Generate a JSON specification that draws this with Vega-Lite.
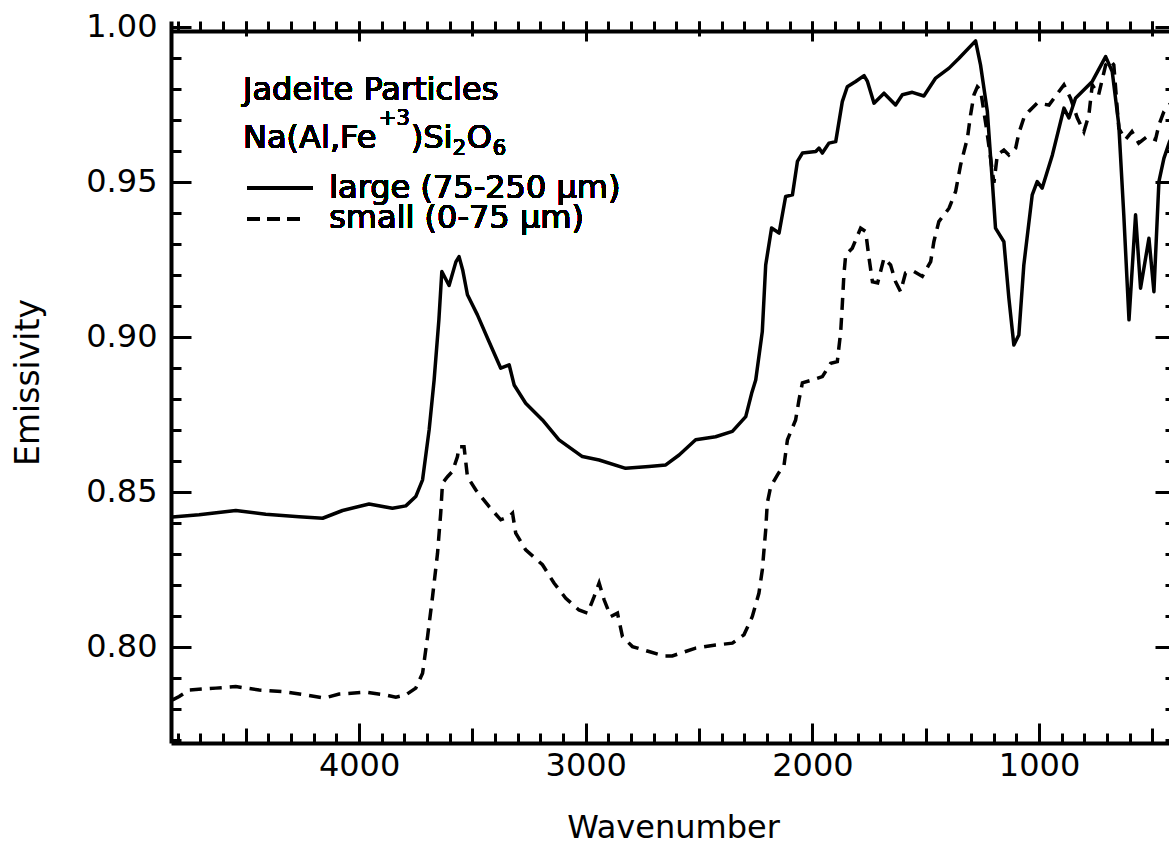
{
  "$schema": "https://vega.github.io/schema/vega-lite/v6.json",
  "width": 997,
  "height": 722,
  "autosize": {"type": "none"},
  "padding": {"left": 171, "top": 21, "right": 1, "bottom": 103},
  "background": "white",
  "config": {"view": {"stroke": null}, "axis": {"grid": false}},
  "datasets": {
    "spectra": [
      {"series":"large","wavenumber":4824,"emissivity":0.8418},{"series":"large","wavenumber":4706,"emissivity":0.8425},{"series":"large","wavenumber":4544,"emissivity":0.8439},{"series":"large","wavenumber":4412,"emissivity":0.8427},{"series":"large","wavenumber":4265,"emissivity":0.8419},{"series":"large","wavenumber":4161,"emissivity":0.8414},{"series":"large","wavenumber":4073,"emissivity":0.8439},{"series":"large","wavenumber":3956,"emissivity":0.8460},{"series":"large","wavenumber":3853,"emissivity":0.8446},{"series":"large","wavenumber":3794,"emissivity":0.8454},{"series":"large","wavenumber":3750,"emissivity":0.8484},{"series":"large","wavenumber":3720,"emissivity":0.8538},{"series":"large","wavenumber":3691,"emissivity":0.8699},{"series":"large","wavenumber":3669,"emissivity":0.8860},{"series":"large","wavenumber":3648,"emissivity":0.9054},{"series":"large","wavenumber":3635,"emissivity":0.9210},{"series":"large","wavenumber":3603,"emissivity":0.9165},{"series":"large","wavenumber":3573,"emissivity":0.9241},{"series":"large","wavenumber":3559,"emissivity":0.9258},{"series":"large","wavenumber":3543,"emissivity":0.9215},{"series":"large","wavenumber":3522,"emissivity":0.9135},{"series":"large","wavenumber":3478,"emissivity":0.9070},{"series":"large","wavenumber":3427,"emissivity":0.8984},{"series":"large","wavenumber":3375,"emissivity":0.8898},{"series":"large","wavenumber":3338,"emissivity":0.8909},{"series":"large","wavenumber":3316,"emissivity":0.8844},{"series":"large","wavenumber":3265,"emissivity":0.8785},{"series":"large","wavenumber":3191,"emissivity":0.8731},{"series":"large","wavenumber":3118,"emissivity":0.8667},{"series":"large","wavenumber":3015,"emissivity":0.8613},{"series":"large","wavenumber":2941,"emissivity":0.8602},{"series":"large","wavenumber":2824,"emissivity":0.8575},{"series":"large","wavenumber":2721,"emissivity":0.8581},{"series":"large","wavenumber":2647,"emissivity":0.8586},{"series":"large","wavenumber":2588,"emissivity":0.8618},{"series":"large","wavenumber":2515,"emissivity":0.8667},{"series":"large","wavenumber":2427,"emissivity":0.8677},{"series":"large","wavenumber":2353,"emissivity":0.8694},{"series":"large","wavenumber":2294,"emissivity":0.8742},{"series":"large","wavenumber":2268,"emissivity":0.8817},{"series":"large","wavenumber":2250,"emissivity":0.8860},{"series":"large","wavenumber":2221,"emissivity":0.9016},{"series":"large","wavenumber":2206,"emissivity":0.9231},{"series":"large","wavenumber":2180,"emissivity":0.9350},{"series":"large","wavenumber":2147,"emissivity":0.9334},{"series":"large","wavenumber":2118,"emissivity":0.9452},{"series":"large","wavenumber":2088,"emissivity":0.9457},{"series":"large","wavenumber":2066,"emissivity":0.9565},{"series":"large","wavenumber":2044,"emissivity":0.9592},{"series":"large","wavenumber":1985,"emissivity":0.9597},{"series":"large","wavenumber":1971,"emissivity":0.9608},{"series":"large","wavenumber":1956,"emissivity":0.9592},{"series":"large","wavenumber":1927,"emissivity":0.9624},{"series":"large","wavenumber":1897,"emissivity":0.9629},{"series":"large","wavenumber":1868,"emissivity":0.9758},{"series":"large","wavenumber":1846,"emissivity":0.9806},{"series":"large","wavenumber":1809,"emissivity":0.9823},{"series":"large","wavenumber":1772,"emissivity":0.9842},{"series":"large","wavenumber":1757,"emissivity":0.9823},{"series":"large","wavenumber":1728,"emissivity":0.9753},{"series":"large","wavenumber":1684,"emissivity":0.9785},{"series":"large","wavenumber":1633,"emissivity":0.9747},{"series":"large","wavenumber":1603,"emissivity":0.9780},{"series":"large","wavenumber":1559,"emissivity":0.9788},{"series":"large","wavenumber":1508,"emissivity":0.9776},{"series":"large","wavenumber":1456,"emissivity":0.9834},{"series":"large","wavenumber":1397,"emissivity":0.9866},{"series":"large","wavenumber":1353,"emissivity":0.9898},{"series":"large","wavenumber":1280,"emissivity":0.9954},{"series":"large","wavenumber":1258,"emissivity":0.9876},{"series":"large","wavenumber":1228,"emissivity":0.9726},{"series":"large","wavenumber":1206,"emissivity":0.9500},{"series":"large","wavenumber":1192,"emissivity":0.9350},{"series":"large","wavenumber":1155,"emissivity":0.9306},{"series":"large","wavenumber":1133,"emissivity":0.9124},{"series":"large","wavenumber":1111,"emissivity":0.8973},{"series":"large","wavenumber":1089,"emissivity":0.9005},{"series":"large","wavenumber":1067,"emissivity":0.9231},{"series":"large","wavenumber":1030,"emissivity":0.9457},{"series":"large","wavenumber":1008,"emissivity":0.9500},{"series":"large","wavenumber":986,"emissivity":0.9479},{"series":"large","wavenumber":941,"emissivity":0.9586},{"series":"large","wavenumber":890,"emissivity":0.9737},{"series":"large","wavenumber":868,"emissivity":0.9705},{"series":"large","wavenumber":839,"emissivity":0.9769},{"series":"large","wavenumber":765,"emissivity":0.9823},{"series":"large","wavenumber":706,"emissivity":0.9903},{"series":"large","wavenumber":677,"emissivity":0.9855},{"series":"large","wavenumber":648,"emissivity":0.9683},{"series":"large","wavenumber":626,"emissivity":0.9393},{"series":"large","wavenumber":603,"emissivity":0.9054},{"series":"large","wavenumber":574,"emissivity":0.9393},{"series":"large","wavenumber":552,"emissivity":0.9156},{"series":"large","wavenumber":515,"emissivity":0.9317},{"series":"large","wavenumber":493,"emissivity":0.9145},{"series":"large","wavenumber":471,"emissivity":0.9500},{"series":"large","wavenumber":449,"emissivity":0.9575},{"series":"large","wavenumber":424,"emissivity":0.9629},{"series":"large","wavenumber":400,"emissivity":0.9660},
      {"series":"small","wavenumber":4823,"emissivity":0.7828},{"series":"small","wavenumber":4794,"emissivity":0.7839},{"series":"small","wavenumber":4750,"emissivity":0.7860},{"series":"small","wavenumber":4632,"emissivity":0.7866},{"series":"small","wavenumber":4544,"emissivity":0.7871},{"series":"small","wavenumber":4441,"emissivity":0.7860},{"series":"small","wavenumber":4338,"emissivity":0.7855},{"series":"small","wavenumber":4235,"emissivity":0.7844},{"series":"small","wavenumber":4154,"emissivity":0.7834},{"series":"small","wavenumber":4088,"emissivity":0.7847},{"series":"small","wavenumber":3970,"emissivity":0.7853},{"series":"small","wavenumber":3882,"emissivity":0.7844},{"series":"small","wavenumber":3838,"emissivity":0.7837},{"series":"small","wavenumber":3794,"emissivity":0.7844},{"series":"small","wavenumber":3750,"emissivity":0.7866},{"series":"small","wavenumber":3720,"emissivity":0.7914},{"series":"small","wavenumber":3698,"emissivity":0.8032},{"series":"small","wavenumber":3676,"emissivity":0.8161},{"series":"small","wavenumber":3654,"emissivity":0.8301},{"series":"small","wavenumber":3640,"emissivity":0.8430},{"series":"small","wavenumber":3632,"emissivity":0.8527},{"series":"small","wavenumber":3610,"emissivity":0.8548},{"series":"small","wavenumber":3588,"emissivity":0.8565},{"series":"small","wavenumber":3566,"emissivity":0.8613},{"series":"small","wavenumber":3559,"emissivity":0.8645},{"series":"small","wavenumber":3537,"emissivity":0.8645},{"series":"small","wavenumber":3522,"emissivity":0.8548},{"series":"small","wavenumber":3485,"emissivity":0.8505},{"series":"small","wavenumber":3427,"emissivity":0.8452},{"series":"small","wavenumber":3375,"emissivity":0.8409},{"series":"small","wavenumber":3338,"emissivity":0.8419},{"series":"small","wavenumber":3323,"emissivity":0.8430},{"series":"small","wavenumber":3309,"emissivity":0.8366},{"series":"small","wavenumber":3265,"emissivity":0.8312},{"series":"small","wavenumber":3191,"emissivity":0.8264},{"series":"small","wavenumber":3140,"emissivity":0.8205},{"series":"small","wavenumber":3088,"emissivity":0.8156},{"series":"small","wavenumber":3030,"emissivity":0.8118},{"series":"small","wavenumber":2992,"emissivity":0.8108},{"series":"small","wavenumber":2963,"emissivity":0.8161},{"series":"small","wavenumber":2941,"emissivity":0.8205},{"series":"small","wavenumber":2919,"emissivity":0.8151},{"series":"small","wavenumber":2890,"emissivity":0.8097},{"series":"small","wavenumber":2860,"emissivity":0.8108},{"series":"small","wavenumber":2838,"emissivity":0.8032},{"series":"small","wavenumber":2794,"emissivity":0.8000},{"series":"small","wavenumber":2721,"emissivity":0.7984},{"series":"small","wavenumber":2655,"emissivity":0.7970},{"series":"small","wavenumber":2618,"emissivity":0.7970},{"series":"small","wavenumber":2515,"emissivity":0.7995},{"series":"small","wavenumber":2427,"emissivity":0.8005},{"series":"small","wavenumber":2353,"emissivity":0.8011},{"series":"small","wavenumber":2302,"emissivity":0.8038},{"series":"small","wavenumber":2265,"emissivity":0.8097},{"series":"small","wavenumber":2236,"emissivity":0.8172},{"series":"small","wavenumber":2221,"emissivity":0.8247},{"series":"small","wavenumber":2206,"emissivity":0.8376},{"series":"small","wavenumber":2199,"emissivity":0.8463},{"series":"small","wavenumber":2184,"emissivity":0.8516},{"series":"small","wavenumber":2154,"emissivity":0.8554},{"series":"small","wavenumber":2125,"emissivity":0.8586},{"series":"small","wavenumber":2110,"emissivity":0.8667},{"series":"small","wavenumber":2074,"emissivity":0.8731},{"series":"small","wavenumber":2059,"emissivity":0.8796},{"series":"small","wavenumber":2044,"emissivity":0.8851},{"series":"small","wavenumber":2000,"emissivity":0.8860},{"series":"small","wavenumber":1956,"emissivity":0.8871},{"series":"small","wavenumber":1919,"emissivity":0.8914},{"series":"small","wavenumber":1890,"emissivity":0.8919},{"series":"small","wavenumber":1875,"emissivity":0.9016},{"series":"small","wavenumber":1868,"emissivity":0.9102},{"series":"small","wavenumber":1861,"emissivity":0.9199},{"series":"small","wavenumber":1853,"emissivity":0.9264},{"series":"small","wavenumber":1824,"emissivity":0.9285},{"series":"small","wavenumber":1787,"emissivity":0.9350},{"series":"small","wavenumber":1765,"emissivity":0.9339},{"series":"small","wavenumber":1750,"emissivity":0.9253},{"series":"small","wavenumber":1735,"emissivity":0.9177},{"series":"small","wavenumber":1712,"emissivity":0.9173},{"series":"small","wavenumber":1684,"emissivity":0.9253},{"series":"small","wavenumber":1655,"emissivity":0.9231},{"series":"small","wavenumber":1633,"emissivity":0.9177},{"series":"small","wavenumber":1611,"emissivity":0.9145},{"series":"small","wavenumber":1589,"emissivity":0.9205},{"series":"small","wavenumber":1552,"emissivity":0.9210},{"series":"small","wavenumber":1515,"emissivity":0.9194},{"series":"small","wavenumber":1478,"emissivity":0.9242},{"series":"small","wavenumber":1464,"emissivity":0.9306},{"series":"small","wavenumber":1442,"emissivity":0.9371},{"series":"small","wavenumber":1397,"emissivity":0.9414},{"series":"small","wavenumber":1368,"emissivity":0.9468},{"series":"small","wavenumber":1346,"emissivity":0.9554},{"series":"small","wavenumber":1316,"emissivity":0.9640},{"series":"small","wavenumber":1302,"emissivity":0.9715},{"series":"small","wavenumber":1287,"emissivity":0.9780},{"series":"small","wavenumber":1272,"emissivity":0.9806},{"series":"small","wavenumber":1258,"emissivity":0.9796},{"series":"small","wavenumber":1231,"emissivity":0.9667},{"series":"small","wavenumber":1199,"emissivity":0.9496},{"series":"small","wavenumber":1184,"emissivity":0.9586},{"series":"small","wavenumber":1155,"emissivity":0.9602},{"series":"small","wavenumber":1133,"emissivity":0.9586},{"series":"small","wavenumber":1103,"emissivity":0.9608},{"series":"small","wavenumber":1089,"emissivity":0.9656},{"series":"small","wavenumber":1067,"emissivity":0.9705},{"series":"small","wavenumber":1045,"emissivity":0.9726},{"series":"small","wavenumber":1008,"emissivity":0.9753},{"series":"small","wavenumber":956,"emissivity":0.9747},{"series":"small","wavenumber":890,"emissivity":0.9812},{"series":"small","wavenumber":861,"emissivity":0.9769},{"series":"small","wavenumber":831,"emissivity":0.9705},{"series":"small","wavenumber":802,"emissivity":0.9661},{"series":"small","wavenumber":780,"emissivity":0.9715},{"series":"small","wavenumber":765,"emissivity":0.9812},{"series":"small","wavenumber":737,"emissivity":0.9780},{"series":"small","wavenumber":706,"emissivity":0.9876},{"series":"small","wavenumber":685,"emissivity":0.9890},{"series":"small","wavenumber":670,"emissivity":0.9876},{"series":"small","wavenumber":648,"emissivity":0.9672},{"series":"small","wavenumber":619,"emissivity":0.9635},{"series":"small","wavenumber":590,"emissivity":0.9661},{"series":"small","wavenumber":560,"emissivity":0.9624},{"series":"small","wavenumber":523,"emissivity":0.9645},{"series":"small","wavenumber":486,"emissivity":0.9635},{"series":"small","wavenumber":471,"emissivity":0.9683},{"series":"small","wavenumber":449,"emissivity":0.9726},{"series":"small","wavenumber":427,"emissivity":0.9747},{"series":"small","wavenumber":400,"emissivity":0.9760}
    ]
  },
  "data": {"name": "spectra"},
  "resolve": {"axis": {"x": "independent", "y": "independent"}},
  "layer": [
    {
      "transform": [{"filter": "datum.series === 'large'"}],
      "mark": {"type": "line", "stroke": "black", "strokeWidth": 3.5, "strokeJoin": "round"},
      "encoding": {
        "x": {"field": "wavenumber", "type": "quantitative",
          "scale": {"domain": [4830, 400], "range": [0, 1004], "nice": false, "zero": false},
          "axis": {"orient": "bottom", "values": [1000, 2000, 3000, 4000], "format": "d", "ticks": false, "tickSize": 0, "labelPadding": 7, "labelFont": "DejaVu Sans", "labelFontSize": 32, "labelColor": "black", "labelFlush": false, "labelOverlap": false, "domain": true, "domainWidth": 4, "domainColor": "black", "grid": false,
            "title": "Wavenumber", "titleFont": "DejaVu Sans", "titleFontSize": 32, "titleFontWeight": "normal", "titleColor": "black", "titleX": 502, "titleY": 94, "titleBaseline": "alphabetic", "titleAlign": "center", "titleAngle": 0}},
        "y": {"field": "emissivity", "type": "quantitative",
          "scale": {"domain": [0.7689, 1.0018], "nice": false, "zero": false},
          "axis": {"orient": "left", "values": [0.8, 0.85, 0.9, 0.95, 1.0], "format": ".2f", "ticks": false, "tickSize": 0, "labelPadding": 14, "labelFont": "DejaVu Sans", "labelFontSize": 32, "labelColor": "black", "labelFlush": false, "labelOverlap": false, "domain": true, "domainWidth": 4, "domainColor": "black", "grid": false,
            "title": "Emissivity", "titleFont": "DejaVu Sans", "titleFontSize": 33, "titleFontWeight": "normal", "titleColor": "black", "titleX": -133, "titleY": 361, "titleAngle": 270, "titleBaseline": "alphabetic", "titleAlign": "center"}}
      }
    },
    {
      "transform": [{"filter": "datum.series === 'small'"}],
      "mark": {"type": "line", "stroke": "black", "strokeWidth": 3.5, "strokeDash": [12, 8]},
      "encoding": {
        "x": {"field": "wavenumber", "type": "quantitative",
          "scale": {"domain": [4830, 400], "range": [0, 1004], "nice": false, "zero": false},
          "axis": {"orient": "bottom", "offset": -20, "values": [1000, 2000, 3000, 4000], "ticks": true, "tickSize": 20, "tickWidth": 3, "tickColor": "black", "labels": false, "domain": false, "grid": false, "title": null}},
        "y": {"field": "emissivity", "type": "quantitative",
          "scale": {"domain": [0.7689, 1.0018], "nice": false, "zero": false},
          "axis": {"orient": "left", "offset": -20, "values": [0.8, 0.85, 0.9, 0.95, 1.0], "ticks": true, "tickSize": 20, "tickWidth": 3, "tickColor": "black", "labels": false, "domain": false, "grid": false, "title": null}}
      }
    },
    {
      "mark": {"type": "rule", "stroke": "black", "strokeWidth": 3.5},
      "encoding": {
        "x": {"datum": 4492, "type": "quantitative",
          "scale": {"domain": [4830, 400], "range": [0, 1004], "nice": false, "zero": false},
          "axis": {"orient": "bottom", "offset": -15, "values": [500, 1500, 2500, 3500, 4500], "ticks": true, "tickSize": 15, "tickWidth": 3, "tickColor": "black", "labels": false, "domain": false, "grid": false, "title": null}},
        "x2": {"datum": 4206},
        "y": {"datum": 0.9479, "type": "quantitative",
          "scale": {"domain": [0.7689, 1.0018], "nice": false, "zero": false},
          "axis": {"orient": "left", "offset": -10, "values": [0.77, 0.78, 0.79, 0.8, 0.81, 0.82, 0.83, 0.84, 0.85, 0.86, 0.87, 0.88, 0.89, 0.9, 0.91, 0.92, 0.93, 0.94, 0.95, 0.96, 0.97, 0.98, 0.99, 1.0], "ticks": true, "tickSize": 10, "tickWidth": 3, "tickColor": "black", "labels": false, "domain": false, "grid": false, "title": null}}
      }
    },
    {
      "mark": {"type": "rule", "stroke": "black", "strokeWidth": 3.5, "strokeDash": [12, 8]},
      "encoding": {
        "x": {"datum": 4492, "type": "quantitative",
          "scale": {"domain": [4830, 400], "range": [0, 1004], "nice": false, "zero": false},
          "axis": {"orient": "bottom", "offset": -10, "values": [400, 500, 600, 700, 800, 900, 1000, 1100, 1200, 1300, 1400, 1500, 1600, 1700, 1800, 1900, 2000, 2100, 2200, 2300, 2400, 2500, 2600, 2700, 2800, 2900, 3000, 3100, 3200, 3300, 3400, 3500, 3600, 3700, 3800, 3900, 4000, 4100, 4200, 4300, 4400, 4500, 4600, 4700, 4800], "ticks": true, "tickSize": 10, "tickWidth": 3, "tickColor": "black", "labels": false, "domain": false, "grid": false, "title": null}},
        "x2": {"datum": 4263},
        "y": {"datum": 0.938, "type": "quantitative",
          "scale": {"domain": [0.7689, 1.0018], "nice": false, "zero": false},
          "axis": {"orient": "right", "offset": -13, "values": [0.8, 0.85, 0.9, 0.95, 1.0], "ticks": true, "tickSize": 20, "tickWidth": 3, "tickColor": "black", "labels": false, "domain": false, "grid": false, "title": null}}
      }
    },
    {
      "mark": {"type": "text", "text": "Jadeite Particles", "font": "DejaVu Sans", "fontSize": 32, "color": "black", "align": "left", "baseline": "alphabetic"},
      "encoding": {
        "x": {"datum": 4512, "type": "quantitative",
          "scale": {"domain": [4830, 400], "range": [0, 1004], "nice": false, "zero": false},
          "axis": {"orient": "top", "offset": -20, "values": [1000, 2000, 3000, 4000], "ticks": true, "tickSize": 20, "tickWidth": 3, "tickColor": "black", "labels": false, "domain": false, "grid": false, "title": null}},
        "y": {"datum": 0.9764, "type": "quantitative",
          "scale": {"domain": [0.7689, 1.0018], "nice": false, "zero": false},
          "axis": {"orient": "right", "offset": -3, "values": [0.77, 0.78, 0.79, 0.8, 0.81, 0.82, 0.83, 0.84, 0.85, 0.86, 0.87, 0.88, 0.89, 0.9, 0.91, 0.92, 0.93, 0.94, 0.95, 0.96, 0.97, 0.98, 0.99, 1.0], "ticks": true, "tickSize": 10, "tickWidth": 3, "tickColor": "black", "labels": false, "domain": false, "grid": false, "title": null}}
      }
    },
    {
      "mark": {"type": "text", "text": "Na(Al,Fe", "font": "DejaVu Sans", "fontSize": 32, "color": "black", "align": "left", "baseline": "alphabetic"},
      "encoding": {
        "x": {"datum": 4512, "type": "quantitative",
          "scale": {"domain": [4830, 400], "range": [0, 1004], "nice": false, "zero": false},
          "axis": {"orient": "top", "offset": -15, "values": [500, 1500, 2500, 3500, 4500], "ticks": true, "tickSize": 15, "tickWidth": 3, "tickColor": "black", "labels": false, "domain": false, "grid": false, "title": null}},
        "y": {"datum": 0.9608, "type": "quantitative", "scale": {"domain": [0.7689, 1.0018], "nice": false, "zero": false}, "axis": null}
      }
    },
    {
      "mark": {"type": "text", "text": "+3", "font": "DejaVu Sans", "fontSize": 21, "color": "black", "align": "left", "baseline": "alphabetic"},
      "encoding": {
        "x": {"datum": 3913, "type": "quantitative",
          "scale": {"domain": [4830, 400], "range": [0, 1004], "nice": false, "zero": false},
          "axis": {"orient": "top", "offset": -10, "values": [400, 500, 600, 700, 800, 900, 1000, 1100, 1200, 1300, 1400, 1500, 1600, 1700, 1800, 1900, 2000, 2100, 2200, 2300, 2400, 2500, 2600, 2700, 2800, 2900, 3000, 3100, 3200, 3300, 3400, 3500, 3600, 3700, 3800, 3900, 4000, 4100, 4200, 4300, 4400, 4500, 4600, 4700, 4800], "ticks": true, "tickSize": 10, "tickWidth": 3, "tickColor": "black", "labels": false, "domain": true, "domainWidth": 4, "domainColor": "black", "grid": false, "title": null}},
        "y": {"datum": 0.9683, "type": "quantitative", "scale": {"domain": [0.7689, 1.0018], "nice": false, "zero": false}, "axis": null}
      }
    },
    {
      "mark": {"type": "text", "text": ")Si", "font": "DejaVu Sans", "fontSize": 32, "color": "black", "align": "left", "baseline": "alphabetic"},
      "encoding": {
        "x": {"datum": 3772, "type": "quantitative", "scale": {"domain": [4830, 400], "range": [0, 1004], "nice": false, "zero": false}, "axis": null},
        "y": {"datum": 0.9608, "type": "quantitative", "scale": {"domain": [0.7689, 1.0018], "nice": false, "zero": false}, "axis": null}
      }
    },
    {
      "mark": {"type": "text", "text": "2", "font": "DejaVu Sans", "fontSize": 21, "color": "black", "align": "left", "baseline": "alphabetic"},
      "encoding": {
        "x": {"datum": 3587, "type": "quantitative", "scale": {"domain": [4830, 400], "range": [0, 1004], "nice": false, "zero": false}, "axis": null},
        "y": {"datum": 0.9586, "type": "quantitative", "scale": {"domain": [0.7689, 1.0018], "nice": false, "zero": false}, "axis": null}
      }
    },
    {
      "mark": {"type": "text", "text": "O", "font": "DejaVu Sans", "fontSize": 32, "color": "black", "align": "left", "baseline": "alphabetic"},
      "encoding": {
        "x": {"datum": 3525, "type": "quantitative", "scale": {"domain": [4830, 400], "range": [0, 1004], "nice": false, "zero": false}, "axis": null},
        "y": {"datum": 0.9608, "type": "quantitative", "scale": {"domain": [0.7689, 1.0018], "nice": false, "zero": false}, "axis": null}
      }
    },
    {
      "mark": {"type": "text", "text": "6", "font": "DejaVu Sans", "fontSize": 21, "color": "black", "align": "left", "baseline": "alphabetic"},
      "encoding": {
        "x": {"datum": 3410, "type": "quantitative", "scale": {"domain": [4830, 400], "range": [0, 1004], "nice": false, "zero": false}, "axis": null},
        "y": {"datum": 0.9586, "type": "quantitative", "scale": {"domain": [0.7689, 1.0018], "nice": false, "zero": false}, "axis": null}
      }
    },
    {
      "mark": {"type": "text", "text": "large (75-250 µm)", "font": "DejaVu Sans", "fontSize": 32, "color": "black", "align": "left", "baseline": "alphabetic"},
      "encoding": {
        "x": {"datum": 4132, "type": "quantitative", "scale": {"domain": [4830, 400], "range": [0, 1004], "nice": false, "zero": false}, "axis": null},
        "y": {"datum": 0.9448, "type": "quantitative", "scale": {"domain": [0.7689, 1.0018], "nice": false, "zero": false}, "axis": null}
      }
    },
    {
      "mark": {"type": "text", "text": "small (0-75 µm)", "font": "DejaVu Sans", "fontSize": 32, "color": "black", "align": "left", "baseline": "alphabetic"},
      "encoding": {
        "x": {"datum": 4132, "type": "quantitative", "scale": {"domain": [4830, 400], "range": [0, 1004], "nice": false, "zero": false}, "axis": null},
        "y": {"datum": 0.935, "type": "quantitative", "scale": {"domain": [0.7689, 1.0018], "nice": false, "zero": false}, "axis": null}
      }
    }
  ]
}
